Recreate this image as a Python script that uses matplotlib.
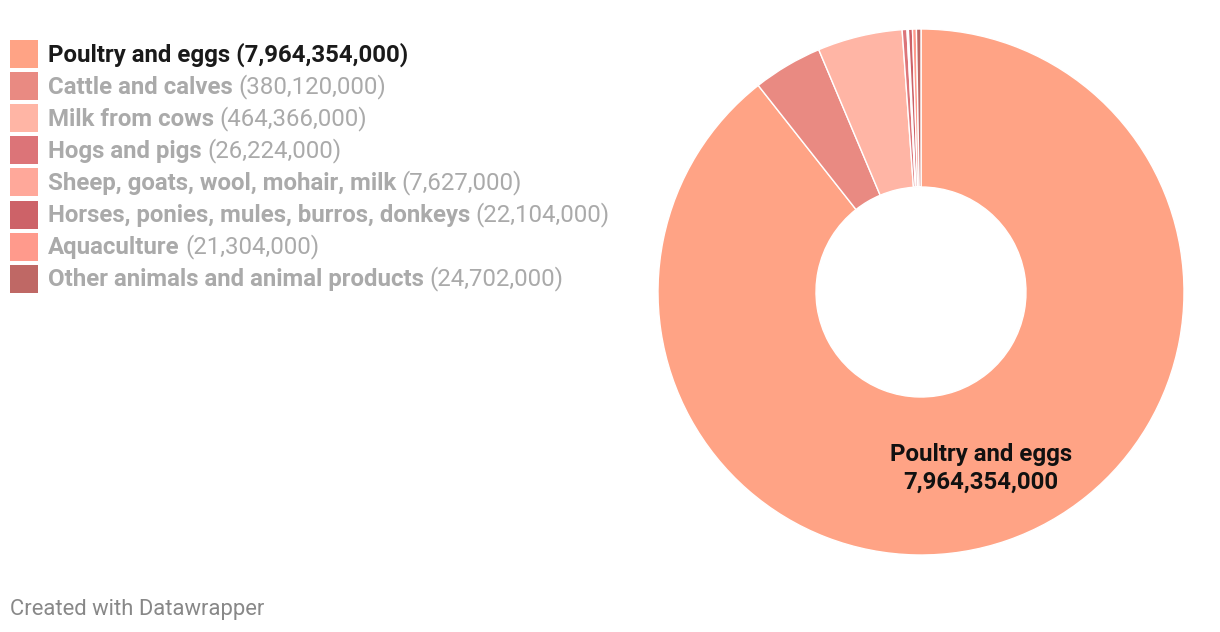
import numpy as np
import matplotlib.pyplot as plt
from matplotlib.patches import Rectangle

plt.rcParams['font.family'] = ['Roboto', 'DejaVu Sans']

categories = ['Poultry and eggs', 'Cattle and calves', 'Milk from cows', 'Hogs and pigs',
              'Sheep, goats, wool, mohair, milk', 'Horses, ponies, mules, burros, donkeys',
              'Aquaculture', 'Other animals and animal products']
values = [7964354000, 380120000, 464366000, 26224000, 7627000, 22104000, 21304000, 24702000]
colors = ['#ffa385', '#e98a82', '#ffb5a5', '#dc7478', '#ffa89a', '#cd6268', '#ff9a8c', '#bf6865']

W, H = 1220, 632
fig = plt.figure(figsize=(W / 100, H / 100), dpi=100)

# donut: centre (921, 292) px, outer radius 263 px, hole 105 px
cx, cy, r, hole = 921, 292, 263, 105
ax = fig.add_axes([(cx - r) / W, (H - cy - r) / H, 2 * r / W, 2 * r / H])
wedges, _ = ax.pie(values, colors=colors, startangle=90, counterclock=False, radius=1,
                   wedgeprops=dict(width=1 - hole / r, edgecolor='white', linewidth=1))
ax.set_xlim(-1, 1)
ax.set_ylim(-1, 1)
ax.set_aspect('equal')
ax.axis('off')

# label on the biggest slice, in the middle of the ring
w = wedges[0]
mid = np.deg2rad((w.theta1 + w.theta2) / 2)
rr = (1 + hole / r) / 2
ax.text(rr * np.cos(mid), rr * np.sin(mid) - 0.01,
        '%s\n%s' % (categories[0], format(values[0], ',')),
        ha='center', va='center', fontsize=17.3, fontweight='bold', color='#111111',
        linespacing=1.25)

# legend
for i, (cat, val, col) in enumerate(zip(categories, values, colors)):
    ymid = 54 + i * 32.1
    fig.patches.append(Rectangle((10 / W, (H - ymid - 14) / H), 28 / W, 28 / H,
                                 transform=fig.transFigure, facecolor=col, edgecolor='none'))
    ytxt = (H - ymid - 1) / H
    if i == 0:
        fig.text(48 / W, ytxt, '%s (%s)' % (cat, format(val, ',')), fontsize=17.3,
                 fontweight='bold', color='#1a1a1a', va='center')
    else:
        t = fig.text(48 / W, ytxt, cat, fontsize=17.3, fontweight='bold',
                     color='#aaaaaa', va='center')
        ax.annotate('(%s)' % format(val, ','), xy=(1, 0), xycoords=t, xytext=(4, 0),
                    textcoords='offset points', fontsize=17.3, color='#aaaaaa',
                    va='bottom', ha='left', annotation_clip=False)

fig.text(10 / W, (H - 609) / H, 'Created with Datawrapper', fontsize=15.8, color='#888888',
         va='center')

fig.savefig('out.png', dpi=100, facecolor='white')
